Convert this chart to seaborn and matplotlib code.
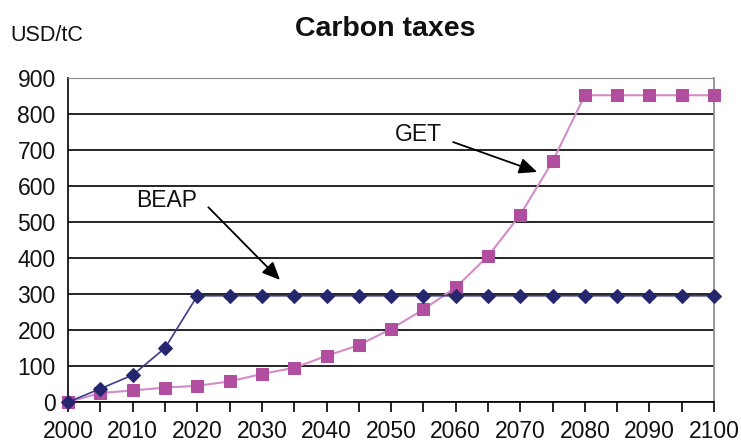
import matplotlib
matplotlib.use("Agg")
import matplotlib.pyplot as plt
import numpy as np
import pandas as pd
import seaborn as sns

years = list(range(2000, 2101, 5))
beap = [0, 37, 75, 150, 295, 295, 295, 295, 295, 295, 295,
        295, 295, 295, 295, 295, 295, 295, 295, 295, 295]
get = [0, 25, 32, 40, 45, 57, 78, 95, 128, 158, 203,
       257, 318, 405, 520, 668, 852, 852, 852, 852, 852]

NAVY, NAVY_LINE = "#26266F", "#3C3C8A"
PINK, PINK_LINE = "#B24E9F", "#D48CC8"

sns.set_theme(style="white")
plt.rcParams["font.family"] = ["Liberation Sans", "DejaVu Sans"]

df = pd.DataFrame({"year": years, "BEAP": beap, "GET": get})

fig = plt.figure(figsize=(7.41, 4.48), dpi=100)
ax = fig.add_axes([0.092, 0.1027, 0.8716, 0.7233])

sns.lineplot(data=df, x="year", y="GET", ax=ax, color=PINK_LINE, lw=1.5,
             marker="s", markersize=9, markerfacecolor=PINK,
             markeredgecolor=PINK, zorder=3)
sns.lineplot(data=df, x="year", y="BEAP", ax=ax, color=NAVY_LINE, lw=1.2,
             marker="D", markersize=7, markerfacecolor=NAVY,
             markeredgecolor=NAVY, zorder=4)

ax.set_xlim(2000, 2100)
ax.set_ylim(0, 900)
ax.set_yticks(range(0, 901, 100))
ax.set_xticks(range(2000, 2101, 10))
ax.set_xticks(range(2005, 2100, 10), minor=True)
ax.yaxis.grid(True, color="black", lw=1.2)
ax.set_axisbelow(True)
ax.set_xlabel("")
ax.set_ylabel("")

for side in ["left", "bottom"]:
    ax.spines[side].set_color("black")
    ax.spines[side].set_linewidth(1.2)
ax.spines["right"].set_color("#8C8C8C")
ax.spines["top"].set_color("#8C8C8C")
ax.spines["top"].set_linewidth(0.8)

ax.tick_params(axis="both", which="both", direction="out", color="black",
               width=1.2, labelsize=16.5, labelcolor="#111111")
ax.tick_params(axis="y", length=6, pad=3)
ax.tick_params(axis="x", which="both", length=7, pad=6, bottom=True)

for line in ax.lines:
    line.set_clip_on(False)

arrow = dict(arrowstyle="-|>,head_length=0.9,head_width=0.4",
             color="black", lw=1.3, shrinkA=0, shrinkB=0)

# labels and arrows
ax.text(2015.3, 560, "BEAP", ha="center", va="center", fontsize=16.5,
        color="#111111")
ax.annotate("", xy=(2032.8, 339), xytext=(2021.7, 541), arrowprops=arrow)
ax.text(2054.2, 742, "GET", ha="center", va="center", fontsize=16.5,
        color="#111111")
ax.annotate("", xy=(2072.6, 639), xytext=(2059.6, 722), arrowprops=arrow)

fig.text(0.52, 0.935, "Carbon taxes", ha="center", va="center",
         fontsize=20.5, fontweight="bold", color="#111111")
fig.text(0.014, 0.92, "USD/tC", ha="left", va="center", fontsize=15.5,
         color="#111111")

fig.savefig("out.png", dpi=100)
